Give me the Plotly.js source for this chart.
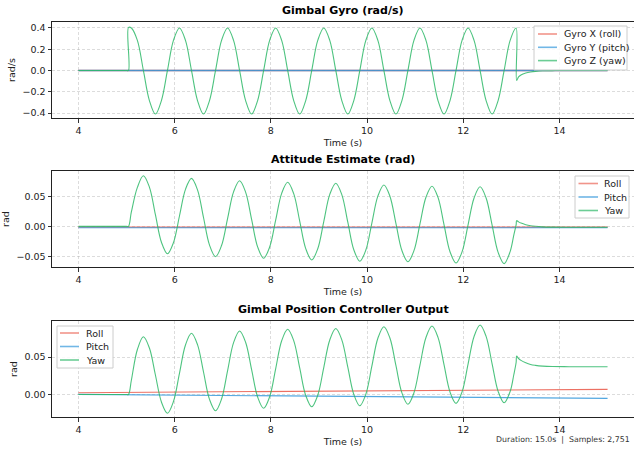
<!DOCTYPE html>
<html>
<head>
<meta charset="utf-8">
<script src="https://cdn.plot.ly/plotly-3.0.1.min.js"></script>
<style>html,body{margin:0;padding:0;background:#fff;}#chart{width:634px;height:449px;}</style>
</head>
<body>
<div id="chart"></div>
<script>
// ---------- DATA ----------
// shared sampling times of the oscillating part (s)
const oscTime = [
  5.1, 5.225, 5.35, 5.475, 5.6, 5.725, 5.85, 5.975,
  6.1, 6.225, 6.35, 6.475, 6.6, 6.725, 6.85, 6.975,
  7.1, 7.225, 7.35, 7.475, 7.6, 7.725, 7.85, 7.975,
  8.1, 8.225, 8.35, 8.475, 8.6, 8.725, 8.85, 8.975,
  9.1, 9.225, 9.35, 9.475, 9.6, 9.725, 9.85, 9.975,
  10.1, 10.225, 10.35, 10.475, 10.6, 10.725, 10.85, 10.975,
  11.1, 11.225, 11.35, 11.475, 11.6, 11.725, 11.85, 11.975,
  12.1, 12.225, 12.35, 12.475, 12.6, 12.725, 12.85, 12.975
];

// Panel 1: Gimbal Gyro (rad/s)
const gyroFlatTime = [4.0, 15.0];
const gyroX = [0.0, 0.0];
const gyroY = [0.0, 0.0];
const gyroZHeadTime = [4.0, 5.0, 5.04, 5.041];
const gyroZHead = [0.0, 0.0, 0.0, 0.405];
const gyroZOsc = [
  0.40, 0.283, 0.0, -0.283, -0.41, -0.283, 0.0, 0.283,
  0.40, 0.283, 0.0, -0.283, -0.41, -0.283, 0.0, 0.283,
  0.40, 0.283, 0.0, -0.283, -0.41, -0.283, 0.0, 0.283,
  0.40, 0.283, 0.0, -0.283, -0.41, -0.283, 0.0, 0.283,
  0.40, 0.283, 0.0, -0.283, -0.41, -0.283, 0.0, 0.283,
  0.40, 0.283, 0.0, -0.283, -0.41, -0.283, 0.0, 0.283,
  0.40, 0.283, 0.0, -0.283, -0.41, -0.283, 0.0, 0.283,
  0.40, 0.283, 0.0, -0.283, -0.41, -0.283, 0.0, 0.283
];
const gyroZTailTime = [13.1, 13.11, 13.15, 13.2, 13.3, 13.4, 13.5, 13.65, 13.85, 14.1, 15.0];
const gyroZTail = [0.40, -0.094, -0.06, -0.042, -0.024, -0.014, -0.008, -0.003, -0.001, 0.0, 0.0];

// Panel 2: Attitude Estimate (rad)
const attFlatTime = [4.0, 15.0];
const attRoll = [-0.0003, -0.0003];
const attPitch = [-0.0013, -0.0013];
const attYawHeadTime = [4.0, 5.0, 5.04];
const attYawHead = [0.001, 0.001, 0.001];
const attYawOsc = [
  0.025, 0.066, 0.0855, 0.0665, 0.0205, -0.0255, -0.0445, -0.0261,
  0.0183, 0.0627, 0.081, 0.0619, 0.0158, -0.0303, -0.0495, -0.0309,
  0.0138, 0.0585, 0.077, 0.0581, 0.0125, -0.0331, -0.052, -0.0334,
  0.0113, 0.056, 0.0745, 0.0556, 0.0098, -0.036, -0.055, -0.0363,
  0.009, 0.0543, 0.073, 0.054, 0.008, -0.038, -0.057, -0.0384,
  0.0065, 0.0514, 0.070, 0.0513, 0.006, -0.0393, -0.058, -0.0395,
  0.005, 0.0495, 0.068, 0.0493, 0.004, -0.0413, -0.060, -0.0414,
  0.0035, 0.0484, 0.067, 0.0483, 0.003, -0.0423, -0.061, -0.041
];
const attYawTailTime = [13.05, 13.1, 13.11, 13.15, 13.2, 13.3, 13.4, 13.5, 13.65, 13.85, 14.2, 15.0];
const attYawTail = [-0.014, 0.004, 0.0105, 0.0085, 0.0065, 0.0038, 0.0021, 0.0011, 0.0002, -0.0003, -0.0005, -0.0005];

// Panel 3: Gimbal Position Controller Output
const ctrlFlatTime = [4.0, 15.0];
const ctrlRoll = [0.0024, 0.0069];
const ctrlPitch = [0.0002, -0.0051];
const ctrlYawHeadTime = [4.0, 5.0, 5.04];
const ctrlYawHead = [0.0, 0.0, 0.0];
const ctrlYawOsc = [
  0.019, 0.060, 0.077, 0.062, 0.026, -0.010, -0.025, -0.0094,
  0.0283, 0.066, 0.0816, 0.0665, 0.030, -0.0065, -0.0216, -0.006,
  0.0316, 0.0691, 0.0847, 0.0696, 0.0332, -0.0033, -0.0184, -0.0030,
  0.0343, 0.0716, 0.087, 0.0719, 0.0354, -0.0012, -0.0163, -0.0010,
  0.0359, 0.0727, 0.088, 0.0729, 0.0365, 0.0001, -0.015, 0.0004,
  0.0377, 0.0750, 0.0904, 0.0753, 0.0387, 0.0021, -0.013, 0.0023,
  0.0392, 0.0760, 0.0913, 0.0762, 0.0398, 0.0033, -0.0118, 0.0035,
  0.0405, 0.0774, 0.0927, 0.0775, 0.0409, 0.0042, -0.011, 0.004
];
const ctrlYawTailTime = [13.05, 13.1, 13.11, 13.15, 13.2, 13.3, 13.4, 13.5, 13.65, 13.85, 14.2, 15.0];
const ctrlYawTail = [0.026, 0.043, 0.0513, 0.048, 0.0455, 0.0422, 0.040, 0.0389, 0.0379, 0.0373, 0.0371, 0.037];

const panelTitles = ['Gimbal Gyro (rad/s)', 'Attitude Estimate (rad)', 'Gimbal Position Controller Output'];
const yLabels = ['rad/s', 'rad', 'rad'];
const legendNames1 = ['Gyro X (roll)', 'Gyro Y (pitch)', 'Gyro Z (yaw)'];
const legendNames = ['Roll', 'Pitch', 'Yaw'];
const xTicks = [4, 6, 8, 10, 12, 14];
const yTicks1 = [-0.4, -0.2, 0.0, 0.2, 0.4];
const yTicks2 = [-0.05, 0.0, 0.05];
const yTicks3 = [0.0, 0.05];
const footerText = 'Duration: 15.0s  |  Samples: 2,751';

// ---------- STYLE ----------
const RED = 'rgba(231,76,60,0.8)';
const BLUE = 'rgba(52,152,219,0.85)';
const GREEN = 'rgba(46,184,104,0.85)';
const COLORS = [RED, BLUE, GREEN];
const LEG_COLORS = ['rgba(231,76,60,0.6)', 'rgba(52,152,219,0.7)', 'rgba(46,184,104,0.7)'];
const FONT = 'DejaVu Sans';
const FS = 9.5;
const LW = 1.1;
const W = 634, H = 449, ML = 52, PW = W - ML;

function join(a, b, c) { return a.concat(b, c); }

function line(x, y, name, color, xa, ya, w) {
  return {
    type: 'scatter', mode: 'lines', x: x, y: y, name: name,
    xaxis: xa, yaxis: ya, showlegend: false,
    line: {color: color, width: w || LW, shape: 'spline', smoothing: 1},
    hoverinfo: 'skip'
  };
}

const traces = [
  line(gyroFlatTime, gyroX, legendNames1[0], RED, 'x', 'y', 1.4),
  line(gyroFlatTime, gyroY, legendNames1[1], BLUE, 'x', 'y', 1.4),
  line(join(gyroZHeadTime, oscTime, gyroZTailTime), join(gyroZHead, gyroZOsc, gyroZTail), legendNames1[2], GREEN, 'x', 'y'),

  line(attFlatTime, attRoll, legendNames[0], RED, 'x2', 'y2'),
  line(attFlatTime, attPitch, legendNames[1], BLUE, 'x2', 'y2'),
  line(join(attYawHeadTime, oscTime, attYawTailTime), join(attYawHead, attYawOsc, attYawTail), legendNames[2], GREEN, 'x2', 'y2'),

  line(ctrlFlatTime, ctrlRoll, legendNames[0], RED, 'x3', 'y3'),
  line(ctrlFlatTime, ctrlPitch, legendNames[1], BLUE, 'x3', 'y3'),
  line(join(ctrlYawHeadTime, oscTime, ctrlYawTailTime), join(ctrlYawHead, ctrlYawOsc, ctrlYawTail), legendNames[2], GREEN, 'x3', 'y3')
];

function dom(top, bottom) { return [1 - bottom / H, 1 - top / H]; }
const doms = [dom(22, 118), dom(171, 267), dom(321, 417)];

const GRID = 'rgba(176,176,176,0.55)';
function xaxis(anchor) {
  return {
    anchor: anchor, domain: [0, 1], range: [3.45, 15.55],
    tickvals: xTicks, ticktext: xTicks.map(String),
    ticks: 'outside', ticklen: 3.5, tickwidth: 0.8, tickcolor: '#000',
    showline: true, mirror: true, linecolor: '#222', linewidth: 1,
    showgrid: true, gridcolor: GRID, griddash: '3px,2px', gridwidth: 0.8,
    zeroline: false,
    tickfont: {family: FONT, size: FS, color: '#222'},
    title: {text: 'Time (s)', font: {family: FONT, size: FS, color: '#222'}, standoff: 4},
    automargin: false
  };
}
function yaxis(anchor, d, range, ticks, fmt, label) {
  return {
    anchor: anchor, domain: d, range: range,
    tickvals: ticks, tickformat: fmt,
    ticks: 'outside', ticklen: 3.5, tickwidth: 0.8, tickcolor: '#000',
    showline: true, mirror: true, linecolor: '#222', linewidth: 1,
    showgrid: true, gridcolor: GRID, griddash: '3px,2px', gridwidth: 0.8,
    zeroline: false,
    tickfont: {family: FONT, size: FS, color: '#222'},
    title: {text: label, font: {family: FONT, size: FS, color: '#222'}, standoff: 5},
    automargin: false
  };
}

const px = v => (v - ML) / PW;
const py = v => 1 - v / H;

const annotations = panelTitles.map((t, i) => ({
  text: '<b>' + t + '</b>', xref: 'paper', yref: 'paper',
  x: 0.5, y: doms[i][1], xanchor: 'center', yanchor: 'bottom', yshift: 3,
  showarrow: false, font: {family: FONT, size: 11, color: '#000'}
}));
annotations.push({
  text: footerText, xref: 'paper', yref: 'paper', x: 1, y: 0,
  xanchor: 'right', yanchor: 'bottom', xshift: -2, yshift: 3,
  showarrow: false, font: {family: FONT, size: 7.8, color: '#333'}
});

// legend boxes (matplotlib-style compact legends)
const shapes = [];
function addLegend(names, box, rows, hx0, hx1, tx) {
  shapes.push({type: 'rect', xref: 'paper', yref: 'paper', layer: 'above',
    x0: px(box[0]), x1: px(box[1]), y0: py(box[3]), y1: py(box[2]),
    fillcolor: 'rgba(255,255,255,0.85)', line: {color: '#cccccc', width: 1}});
  names.forEach((n, i) => {
    shapes.push({type: 'line', xref: 'paper', yref: 'paper', layer: 'above',
      x0: px(hx0), x1: px(hx1), y0: py(rows[i]), y1: py(rows[i]),
      line: {color: LEG_COLORS[i], width: 1.6}});
    annotations.push({text: n, xref: 'paper', yref: 'paper', x: px(tx), y: py(rows[i]),
      xanchor: 'left', yanchor: 'middle', showarrow: false,
      font: {family: FONT, size: FS, color: '#222'}});
  });
}
addLegend(legendNames1, [534, 627, 26, 70], [34, 47.3, 60.6], 538, 557, 562);
addLegend(legendNames, [575, 629, 176, 218], [183.5, 197, 210.5], 578.5, 598, 602);
addLegend(legendNames, [57, 113, 326, 368], [333, 346.5, 360], 60, 79, 84);

const layout = {
  width: W, height: H,
  margin: {l: ML, r: 0, t: 0, b: 0, pad: 0},
  paper_bgcolor: '#fff', plot_bgcolor: '#fff',
  showlegend: false,
  xaxis: xaxis('y'), xaxis2: xaxis('y2'), xaxis3: xaxis('y3'),
  yaxis: yaxis('x', doms[0], [-0.447, 0.456], yTicks1, '.1f', yLabels[0]),
  yaxis2: yaxis('x2', doms[1], [-0.0667, 0.0933], yTicks2, '.2f', yLabels[1]),
  yaxis3: yaxis('x3', doms[2], [-0.03, 0.098], yTicks3, '.2f', yLabels[2]),
  shapes: shapes,
  annotations: annotations
};

Plotly.newPlot('chart', traces, layout, {staticPlot: true, displayModeBar: false});
</script>
</body>
</html>
